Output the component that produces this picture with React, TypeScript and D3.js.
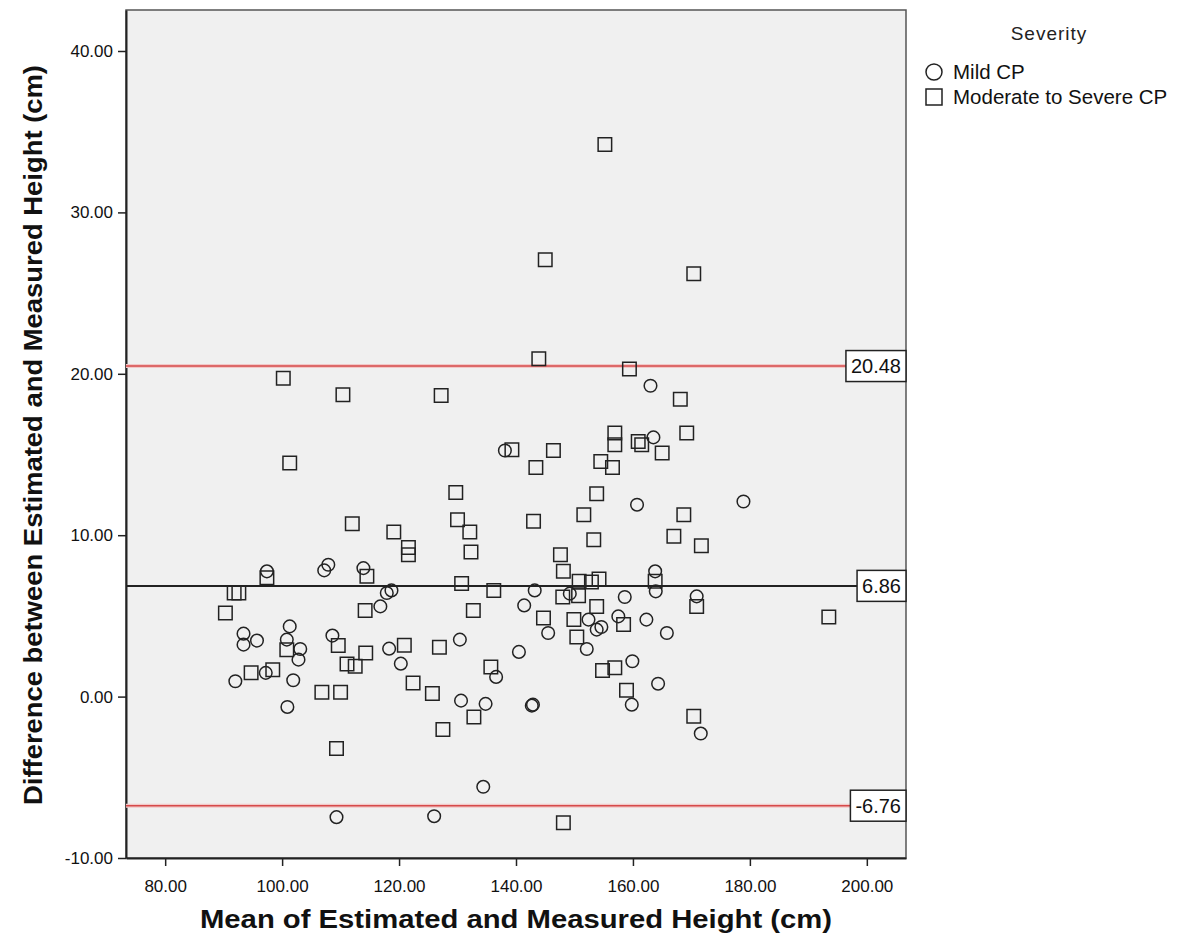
import React, { useRef, useEffect } from 'react';
import * as d3 from 'd3';

// Bland-Altman points: [mean of estimated and measured, difference]
const mildCP: [number, number][] = [
  [92.0, 0.95], [93.4, 3.9], [93.4, 3.22], [95.7, 3.47], [97.4, 7.76], [97.2, 1.47],
  [101.3, 4.35], [100.8, 3.53], [103.1, 2.95], [102.8, 2.29], [101.9, 1.01], [100.9, -0.64],
  [107.9, 8.17], [107.2, 7.82], [113.9, 7.96], [108.6, 3.78], [116.8, 5.59], [109.3, -7.47],
  [118.7, 6.58], [117.9, 6.42], [118.3, 2.97], [120.3, 2.04], [130.4, 3.53], [130.6, -0.25],
  [134.8, -0.45], [136.6, 1.22], [140.5, 2.77], [142.7, -0.56], [142.9, -0.5], [134.4, -5.59],
  [126.0, -7.41], [138.1, 15.25], [143.2, 6.58], [141.4, 5.65], [145.5, 3.94], [149.2, 6.38],
  [152.4, 4.77], [153.8, 4.15], [154.6, 4.31], [152.1, 2.95], [157.5, 4.97], [158.6, 6.17],
  [159.9, 2.19], [159.8, -0.5], [163.0, 19.26], [163.5, 16.06], [160.7, 11.89], [178.9, 12.09],
  [163.8, 7.76], [163.9, 6.52], [170.9, 6.21], [162.3, 4.77], [165.8, 3.94], [164.3, 0.8],
  [171.6, -2.29],
];

const severeCP: [number, number][] = [
  [155.2, 34.2], [145.0, 27.06], [170.4, 26.2], [100.2, 19.73], [110.4, 18.7], [101.3, 14.47],
  [112.0, 10.71], [97.4, 7.37], [114.5, 7.45], [91.8, 6.42], [92.6, 6.42], [90.3, 5.18],
  [100.8, 2.91], [94.7, 1.47], [98.4, 1.67], [109.6, 3.16], [114.3, 2.7], [111.1, 2.02],
  [112.5, 1.88], [114.2, 5.34], [106.8, 0.27], [110.0, 0.27], [109.3, -3.22], [143.9, 20.93],
  [159.4, 20.29], [127.2, 18.66], [156.9, 16.33], [156.9, 15.6], [139.3, 15.29], [146.4, 15.25],
  [143.4, 14.2], [154.5, 14.57], [156.5, 14.2], [153.8, 12.57], [129.7, 12.65], [151.6, 11.27],
  [143.0, 10.86], [130.0, 10.96], [119.1, 10.2], [132.1, 10.2], [121.6, 9.24], [121.6, 8.79],
  [132.3, 8.96], [153.3, 9.72], [147.6, 8.79], [148.1, 7.76], [130.7, 7.0], [136.2, 6.58],
  [150.8, 7.14], [152.9, 7.1], [154.2, 7.29], [148.0, 6.17], [150.7, 6.25], [132.7, 5.34],
  [144.7, 4.87], [153.8, 5.59], [149.9, 4.77], [150.4, 3.7], [158.4, 4.46], [154.8, 1.61],
  [156.9, 1.78], [158.9, 0.39], [120.9, 3.18], [126.9, 3.05], [122.4, 0.85], [125.7, 0.19],
  [132.8, -1.26], [127.5, -2.04], [135.7, 1.84], [148.1, -7.82], [168.1, 18.43], [169.2, 16.33],
  [160.9, 15.81], [161.5, 15.6], [165.0, 15.09], [168.7, 11.27], [167.0, 9.93], [171.7, 9.35],
  [163.8, 7.14], [170.9, 5.59], [193.5, 4.93], [170.4, -1.22],
];

const xTicks = [80, 100, 120, 140, 160, 180, 200];
const yTicks = [-10, 0, 10, 20, 30, 40];
const meanDiff = 6.86;
const agreementLimits = [20.48, -6.76];
const legendTitle = 'Severity';
const legendLabels = ['Mild CP', 'Moderate to Severe CP'];

const FONT = "'Liberation Sans', Arial, sans-serif";

export default function App() {
  const chartRef = useRef<SVGSVGElement>(null);

  useEffect(() => {
    if (!chartRef.current) return;
    const svg = d3.select(chartRef.current);
    svg.selectAll('*').remove();

    const left = 126, right = 906, top = 10, bottom = 858;

    const x = d3.scaleLinear().domain([73.3, 206.7]).range([left, right]);
    const y = d3.scaleLinear().domain([-10, 42.54]).range([bottom, top]);
    // plain hyphen minus, like SPSS
    const fmt = (v: number) => v.toFixed(2);

    // plot background
    svg.append('rect')
      .attr('x', left).attr('y', top)
      .attr('width', right - left).attr('height', bottom - top)
      .attr('fill', '#f0f0f0')
      .attr('stroke', '#555')
      .attr('stroke-width', 1.5);

    // axes
    const xAxis = svg.append('g')
      .attr('transform', `translate(0,${bottom})`)
      .call(d3.axisBottom(x).tickValues(xTicks).tickFormat(d => fmt(+d)).tickSize(8).tickSizeOuter(0).tickPadding(14));
    const yAxis = svg.append('g')
      .attr('transform', `translate(${left},0)`)
      .call(d3.axisLeft(y).tickValues(yTicks).tickFormat(d => fmt(+d)).tickSize(8).tickSizeOuter(0).tickPadding(5));

    [xAxis, yAxis].forEach(g => {
      g.select('.domain').attr('stroke', '#222').attr('stroke-width', 2);
      g.selectAll('.tick line').attr('stroke', '#222').attr('stroke-width', 1.5);
      g.selectAll('.tick text')
        .attr('fill', '#111')
        .style('font-family', FONT)
        .style('font-size', '17px');
    });

    // reference lines: limits of agreement (red) and mean difference (black)
    agreementLimits.forEach(v => {
      svg.append('line')
        .attr('x1', left).attr('x2', right)
        .attr('y1', y(v)).attr('y2', y(v))
        .attr('stroke', '#f2c8c8').attr('stroke-width', 4);
      svg.append('line')
        .attr('x1', left).attr('x2', right)
        .attr('y1', y(v)).attr('y2', y(v))
        .attr('stroke', '#d64a4a').attr('stroke-width', 1.5);
    });
    svg.append('line')
      .attr('x1', left).attr('x2', right)
      .attr('y1', y(meanDiff)).attr('y2', y(meanDiff))
      .attr('stroke', '#222').attr('stroke-width', 2);

    // points
    const circle = d3.symbol().type(d3.symbolCircle).size(Math.PI * 6.3 * 6.3);
    const square = d3.symbol().type(d3.symbolSquare).size(13.5 * 13.5);

    svg.append('g').selectAll('path')
      .data(severeCP)
      .enter().append('path')
      .attr('transform', d => `translate(${x(d[0])},${y(d[1])})`)
      .attr('d', square()!)
      .attr('fill', 'none')
      .attr('stroke', '#222')
      .attr('stroke-width', 1.5);

    svg.append('g').selectAll('path')
      .data(mildCP)
      .enter().append('path')
      .attr('transform', d => `translate(${x(d[0])},${y(d[1])})`)
      .attr('d', circle()!)
      .attr('fill', 'none')
      .attr('stroke', '#222')
      .attr('stroke-width', 1.5);

    // value boxes on the right edge
    [...agreementLimits, meanDiff].forEach(v => {
      const g = svg.append('g');
      const txt = g.append('text')
        .attr('y', y(v))
        .attr('dy', '0.36em')
        .attr('text-anchor', 'end')
        .style('font-family', FONT)
        .style('font-size', '20px')
        .attr('fill', '#111')
        .text(fmt(v));
      const w = (txt.node() as SVGTextElement).getComputedTextLength();
      const bw = w + 10, bh = 31;
      g.insert('rect', 'text')
        .attr('x', right - bw).attr('y', y(v) - bh / 2)
        .attr('width', bw).attr('height', bh)
        .attr('fill', '#fff')
        .attr('stroke', '#222')
        .attr('stroke-width', 1.5);
      txt.attr('x', right - 5);
    });

    // axis titles
    svg.append('text')
      .attr('x', 516)
      .attr('y', 928)
      .attr('text-anchor', 'middle')
      .attr('textLength', 632)
      .attr('lengthAdjust', 'spacingAndGlyphs')
      .style('font-family', FONT)
      .style('font-size', '26px')
      .style('font-weight', 'bold')
      .attr('fill', '#111')
      .text('Mean of Estimated and Measured Height (cm)');

    svg.append('text')
      .attr('transform', `translate(42,435) rotate(-90)`)
      .attr('text-anchor', 'middle')
      .attr('textLength', 740)
      .attr('lengthAdjust', 'spacingAndGlyphs')
      .style('font-family', FONT)
      .style('font-size', '26px')
      .style('font-weight', 'bold')
      .attr('fill', '#111')
      .text('Difference between Estimated and Measured Height  (cm)');

    // legend
    const legend = svg.append('g');
    legend.append('text')
      .attr('x', 1049).attr('y', 40)
      .attr('text-anchor', 'middle')
      .style('font-family', FONT)
      .style('font-size', '19px')
      .style('letter-spacing', '1px')
      .attr('fill', '#222')
      .text(legendTitle);

    const legendSymbols = [
      d3.symbol().type(d3.symbolCircle).size(Math.PI * 8 * 8)()!,
      d3.symbol().type(d3.symbolSquare).size(16 * 16)()!,
    ];
    legendLabels.forEach((label, i) => {
      const cy = 72 + i * 25;
      legend.append('path')
        .attr('transform', `translate(934,${cy})`)
        .attr('d', legendSymbols[i])
        .attr('fill', 'none')
        .attr('stroke', '#222')
        .attr('stroke-width', 1.5);
      legend.append('text')
        .attr('x', 953).attr('y', cy + 7)
        .style('font-family', FONT)
        .style('font-size', '20.5px')
        .attr('fill', '#111')
        .text(label);
    });
  }, []);

  return (
    <div style={{ position: 'absolute', left: 0, top: 0 }}>
      <svg ref={chartRef} width={1181} height={941} style={{ display: 'block', background: '#fff' }} />
    </div>
  );
}
